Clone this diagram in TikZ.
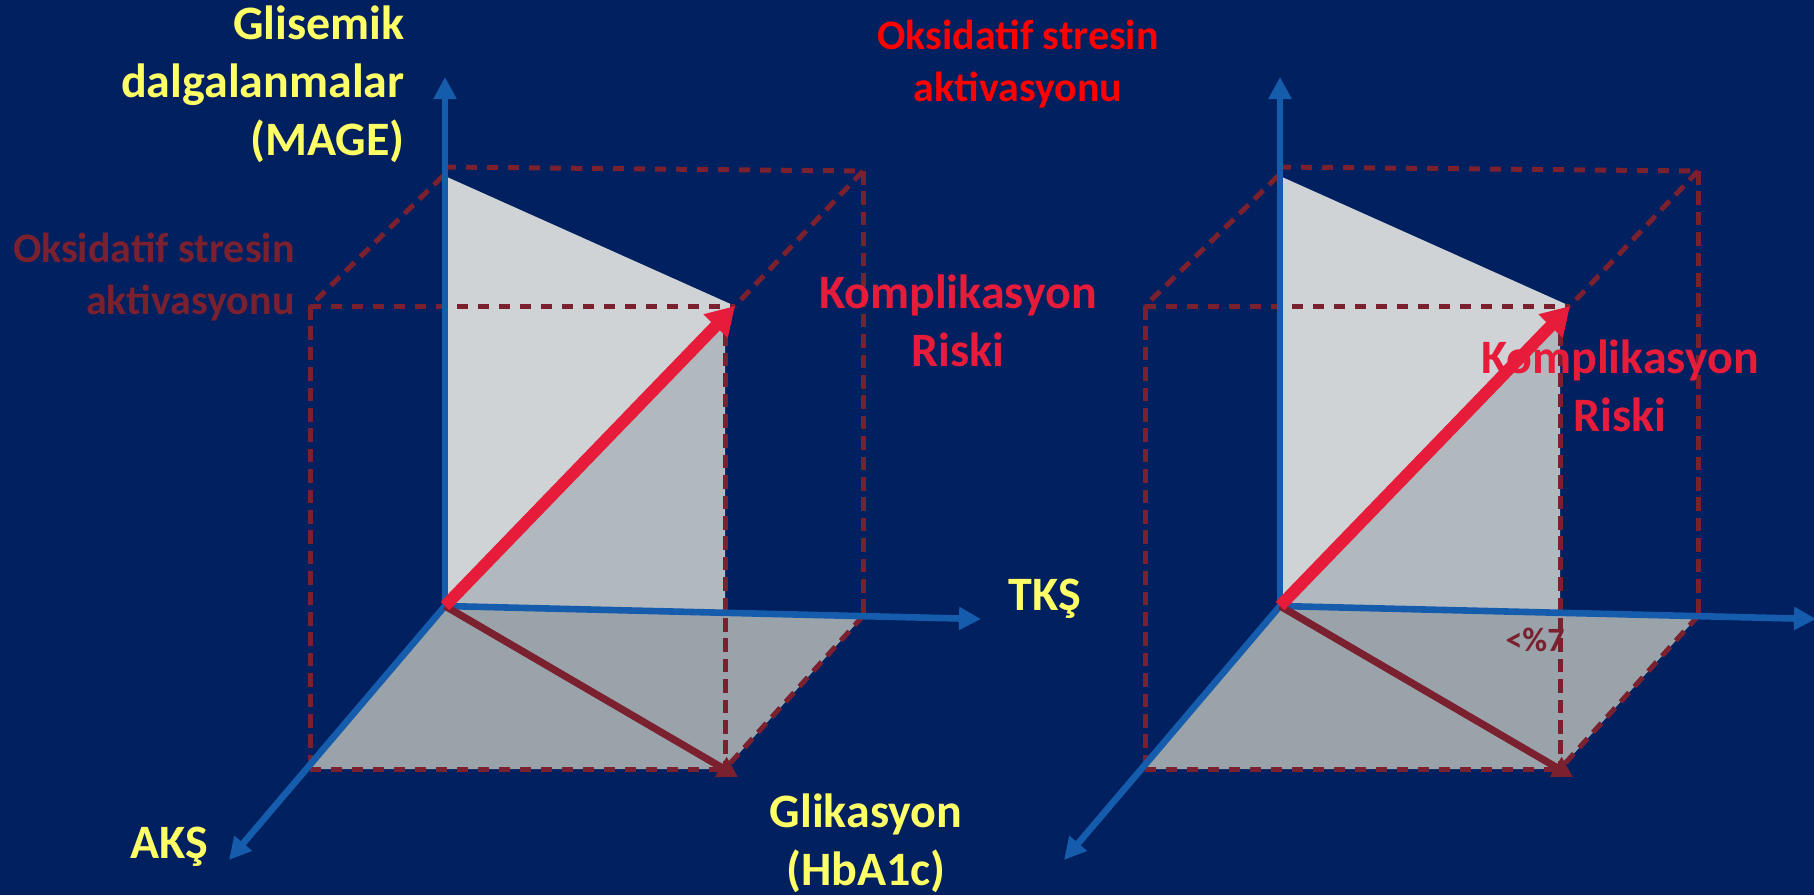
\documentclass[tikz,border=0pt]{standalone}
\usepackage{fontspec}
\setmainfont{Carlito}
\usetikzlibrary{arrows.meta}
\definecolor{bg}{RGB}{0,32,96}
\definecolor{axisblue}{RGB}{22,92,172}
\definecolor{lbl}{RGB}{255,255,102}
\definecolor{dred}{RGB}{122,32,46}
\definecolor{crim}{RGB}{230,28,58}
\definecolor{brred}{RGB}{255,0,0}
\definecolor{gLight}{RGB}{208,211,214}
\definecolor{gMid}{RGB}{177,184,190}
\definecolor{gFloor}{RGB}{154,163,169}
\tikzset{
  axisline/.style={draw=axisblue, line width=3.3pt, -{Triangle[length=11pt,width=11pt]}},
  guidev/.style={draw=dred, line width=2.5pt, dash pattern=on 6.8pt off 3.4pt},
  guided/.style={draw=dred, line width=2.5pt, dash pattern=on 6.3pt off 4pt},
  guideh/.style={draw=dred, line width=2.5pt, dash pattern=on 5.5pt off 5pt},
  risk/.style={draw=crim, line width=6pt, -{Triangle[length=14pt,width=16pt]}},
  proj/.style={draw=dred, line width=3.6pt, -{Triangle[length=10pt,width=11pt]}},
  txt/.style={font=\bfseries\fontsize{24}{29}\selectfont, inner sep=0pt},
  stxt/.style={font=\bfseries\fontsize{21}{26}\selectfont, inner sep=0pt},
}
\newcommand{\cubecoords}[1]{%
  \coordinate (#1O) at (445,606);
  \coordinate (#1Vt) at (445,77);
  \coordinate (#1Tt) at (981,619);
  \coordinate (#1At) at (229,860);
  \coordinate (#1Vtop) at (445,167);
  \coordinate (#1Vd) at (443,176);
  \coordinate (#1Btr) at (863,171);
  \coordinate (#1Bbr) at (863,616);
  \coordinate (#1Ftl) at (310,306);
  \coordinate (#1Ftr) at (735,306);
  \coordinate (#1Fv) at (725,312);
  \coordinate (#1Fvm) at (725,613);
  \coordinate (#1Fbl) at (310,769);
  \coordinate (#1Fbr) at (725,769);
  \coordinate (#1Pt) at (738,777);
  \coordinate (#1Gtop) at (447,177);
}
\newcommand{\cubefill}[1]{%
  \fill[gFloor] (#1O) -- (#1Bbr) -- (#1Fbr) -- (#1Fbl) -- cycle;
  \fill[gMid] (#1O) -- (#1Ftr) -- (#1Fv) -- (#1Fvm) -- cycle;
  \fill[gLight] (#1Gtop) -- (#1Ftr) -- (#1O) -- cycle;
}
\newcommand{\cubelines}[1]{%
  \draw[guideh] (#1Vtop) -- (#1Btr);
  \draw[guidev] (#1Btr) -- (#1Bbr);
  \draw[guided] (#1Vd) -- (#1Ftl);
  \draw[guided] (#1Btr) -- (#1Ftr);
  \draw[guideh] (#1Ftl) -- (#1Ftr);
  \draw[guidev] (#1Ftl) -- (#1Fbl);
  \draw[guidev] (#1Fv) -- (#1Fbr);
  \draw[guideh] (#1Fbl) -- (#1Fbr);
  \draw[guided] (#1Bbr) -- (#1Fbr);
  \draw[axisline] (#1O) -- (#1Vt);
  \draw[axisline] (#1O) -- (#1Tt);
  \draw[axisline] (#1O) -- (#1At);
  \draw[proj] (#1O) -- (#1Pt);
  \draw[risk] (#1O) -- (#1Ftr);
}
\begin{document}
\begin{tikzpicture}[x=0.5pt,y=-0.5pt]
\fill[bg] (0,0) rectangle (1814,895);
\useasboundingbox (0,0) rectangle (1814,895);
\cubecoords{L}
\cubefill{L}
\cubelines{L}
\begin{scope}[shift={(835,0)}]
\cubecoords{R}
\cubefill{R}
\node[font=\bfseries\fontsize{17}{20}\selectfont, text=dred, inner sep=0pt] (hba) at (700,640) {<\%7};
\cubelines{R}
\end{scope}
% labels left
\node[txt, text=lbl, align=right, anchor=east] (mage) at (405,84) {Glisemik\\dalgalanmalar\\(MAGE)};
\node[stxt, text=dred, align=right, anchor=east] (oksL) at (295,277) {Oksidatif stresin\\aktivasyonu};
\node[txt, text=crim, align=center] (kompL) at (958,321) {Komplikasyon\\Riski};
\node[txt, text=lbl] (tks) at (1045,599) {TKŞ};
\node[txt, text=lbl] (aks) at (169,847) {AKŞ};
\node[txt, text=lbl, align=center] (glik) at (866,843) {Glikasyon\\(HbA1c)};
% labels right
\node[stxt, text=brred, align=center] (oksR) at (1018,64) {Oksidatif stresin\\aktivasyonu};
\node[txt, text=crim, align=center] (kompR) at (1620,386) {Komplikasyon\\Riski};
\end{tikzpicture}
\end{document}
